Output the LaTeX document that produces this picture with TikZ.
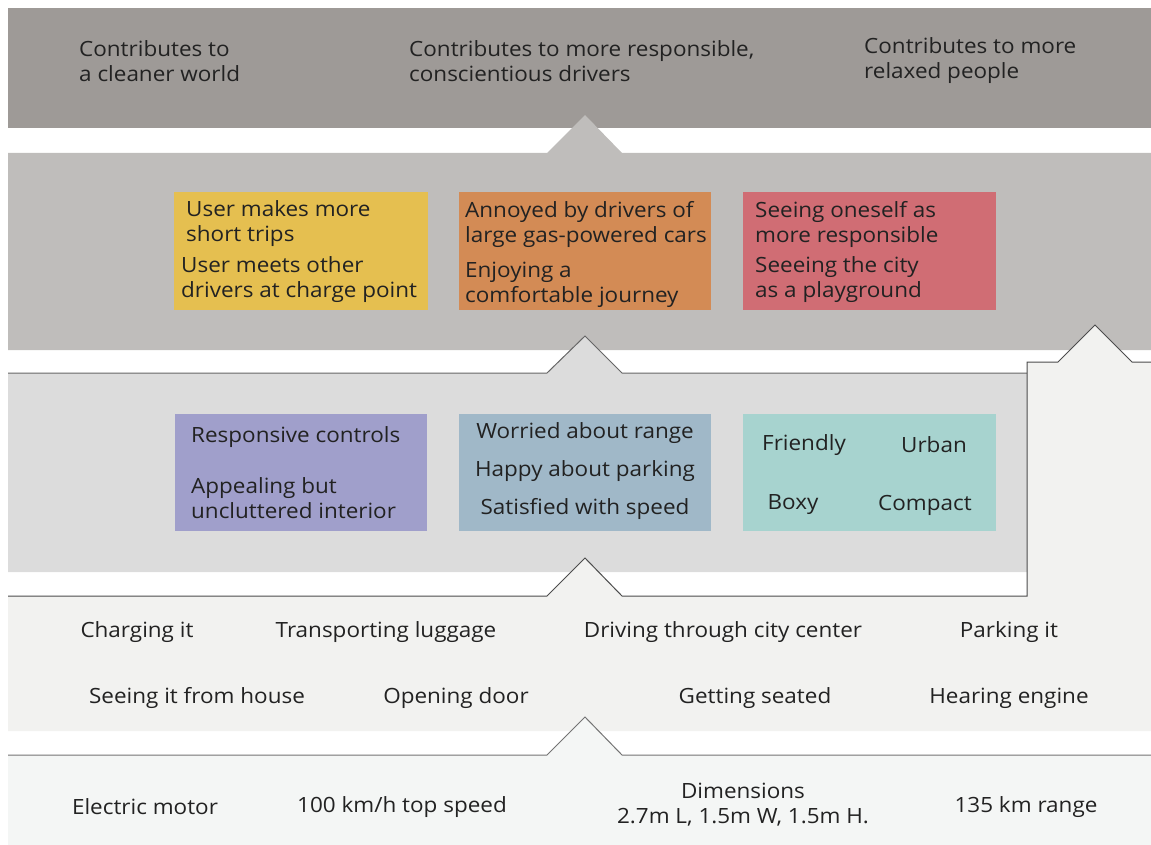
\documentclass[tikz,border=0pt]{standalone}
\usepackage{fontspec}
\setmainfont{Open Sans}[FakeStretch=1.07]
\definecolor{bandA}{HTML}{9E9A97}
\definecolor{bandB}{HTML}{BFBDBB}
\definecolor{bandC}{HTML}{DCDCDC}
\definecolor{bandD}{HTML}{F2F2F0}
\definecolor{bandE}{HTML}{F4F6F5}
\definecolor{boxYellow}{HTML}{E5BF50}
\definecolor{boxOrange}{HTML}{D38B55}
\definecolor{boxRed}{HTML}{D06D74}
\definecolor{boxPurple}{HTML}{A09FCB}
\definecolor{boxBlue}{HTML}{A0B8C8}
\definecolor{boxTeal}{HTML}{A7D3CF}
\definecolor{inkgray}{HTML}{222222}
\begin{document}
\begin{tikzpicture}[x=1pt, y=-1pt]
    \useasboundingbox (0,0) rectangle (1151,845);
    \begin{scope}
        \tikzstyle{every path}=[line width=1pt]
        % layers, top to bottom
        \fill[bandA] (8,8) rectangle (1151,128);
        \fill[bandB] (8,153) -- (547,153) -- (585,115) -- (622,153) -- (1151,153)
            -- (1151,350) -- (8,350) -- cycle;
        \fill[bandC] (8,373) -- (547,373) -- (585,336) -- (622,373) -- (1027,373)
            -- (1027,572) -- (8,572) -- cycle;
        \draw[black!60] (8,373) -- (547,373) -- (585,336) -- (622,373) -- (1027,373);
        \fill[bandD] (8,596) -- (547,596) -- (585,558) -- (622,596) -- (1027,596)
            -- (1027,362) -- (1058,362) -- (1095,325) -- (1132,362) -- (1151,362)
            -- (1151,731) -- (8,731) -- cycle;
        \draw[black!70] (8,596) -- (547,596) -- (585,558) -- (622,596) -- (1027,596)
            -- (1027,362) -- (1058,362) -- (1095,325) -- (1132,362) -- (1151,362);
        \fill[bandE] (8,755) -- (547,755) -- (585,717) -- (622,755) -- (1151,755)
            -- (1151,845) -- (8,845) -- cycle;
        \draw[black!55] (8,755) -- (547,755) -- (585,717) -- (622,755) -- (1151,755);
        % coloured boxes
        \fill[boxYellow] (174,192) rectangle (428,310);
        \fill[boxOrange] (459,192) rectangle (711,310);
        \fill[boxRed] (743,192) rectangle (996,310);
        \fill[boxPurple] (175,414) rectangle (427,531);
        \fill[boxBlue] (459,414) rectangle (711,531);
        \fill[boxTeal] (743,414) rectangle (996,531);
    \end{scope}
    \begin{scope}
        \tikzstyle{every node}=[inner sep=0pt, text=inkgray, align=left, anchor=west,
            font=\fontsize{21}{25}\selectfont]
        \node (c1) at (79,61) {Contributes to\\a cleaner world};
        \node (c2) at (409,61) {Contributes to more responsible,\\conscientious drivers};
        \node (c3) at (864,61) {Contributes to more\\relaxed people};
        \node (y1) at (186,224) {User makes more\\short trips};
        \node (y2) at (181,280) {User meets other\\drivers at charge point};
        \node (o1) at (465,224) {Annoyed by drivers of\\large gas-powered cars};
        \node (o2) at (465,285) {Enjoying a\\comfortable journey};
        \node (r1) at (755,224) {Seeing oneself as\\more responsible};
        \node (r2) at (755,280) {Seeeing the city\\as a playground};
        \node (p1) at (191,437) {Responsive controls};
        \node (p2) at (191,498) {Appealing but\\uncluttered interior};
    \end{scope}
    \begin{scope}
        \tikzstyle{every node}=[inner sep=0pt, text=inkgray, align=center,
            font=\fontsize{21}{25}\selectfont]
        \node (b1) at (585,433) {Worried about range};
        \node (b2) at (585,471) {Happy about parking};
        \node (b3) at (585,509) {Satisfied with speed};
        \node (t1) at (804,445) {Friendly};
        \node (t2) at (934,445) {Urban};
        \node (t3) at (793,505) {Boxy};
        \node (t4) at (925,505) {Compact};
        \node (u1) at (137,632) {Charging it};
        \node (u2) at (386,632) {Transporting luggage};
        \node (u3) at (723,632) {Driving through city center};
        \node (u4) at (1009,632) {Parking it};
        \node (u5) at (197,698) {Seeing it from house};
        \node (u6) at (456,698) {Opening door};
        \node (u7) at (755,698) {Getting seated};
        \node (u8) at (1009,698) {Hearing engine};
        \node (f1) at (145,807) {Electric motor};
        \node (f2) at (402,807) {100 km/h top speed};
        \node (f3) at (743,805) {Dimensions\\2.7m L, 1.5m W, 1.5m H.};
        \node (f4) at (1026,807) {135 km range};
    \end{scope}
\end{tikzpicture}
\end{document}
